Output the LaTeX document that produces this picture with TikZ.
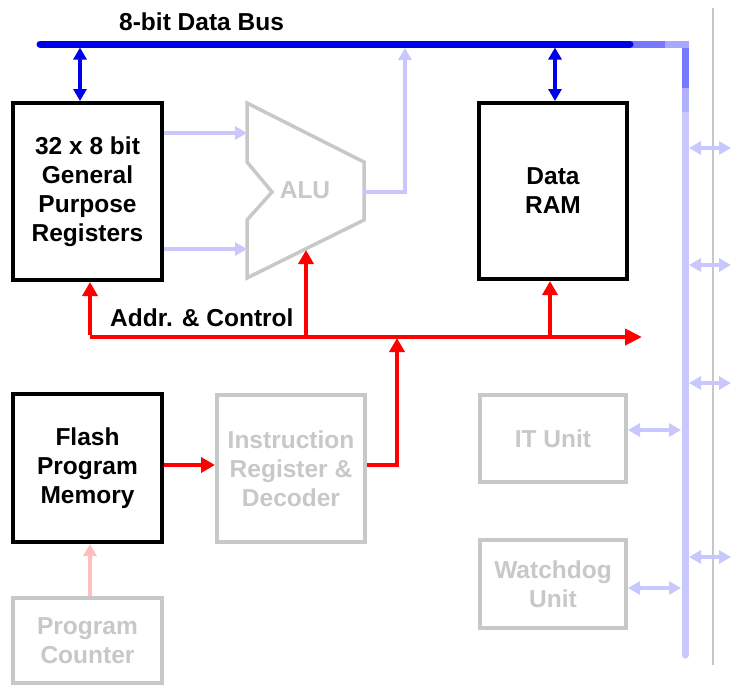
\documentclass[tikz,border=0pt]{standalone}
\usepackage{fontspec}
\setmainfont{Liberation Sans}
\usetikzlibrary{arrows.meta}
\definecolor{busblue}{RGB}{0,0,235}
\definecolor{midblue}{RGB}{120,120,255}
\definecolor{lblue}{RGB}{200,200,255}
\definecolor{lgray}{RGB}{200,200,200}
\definecolor{pinkred}{RGB}{255,190,190}
\definecolor{bred}{RGB}{255,0,0}
\tikzset{
  blk/.style={draw=black,line width=4pt,fill=white,align=center,font=\bfseries\fontsize{24.5}{29}\selectfont,inner sep=0pt},
  gbox/.style={draw=lgray,line width=4pt,fill=white,align=center,text=lgray,font=\bfseries\fontsize{24.5}{29}\selectfont,inner sep=0pt},
  redarrow/.style={draw=bred,line width=4pt,-{Triangle[length=14pt,width=15pt]}},
  bluedbl/.style={draw=busblue,line width=4pt,{Triangle[length=12pt,width=13pt]}-{Triangle[length=12pt,width=13pt]}},
  lbluedbl/.style={draw=lblue,line width=4pt,{Triangle[length=12pt,width=13pt]}-{Triangle[length=12pt,width=13pt]}},
  lbluearrow/.style={draw=lblue,line width=4pt,-{Triangle[length=12pt,width=13pt]}},
  lbl/.style={font=\bfseries\fontsize{24.5}{29}\selectfont,inner sep=0pt}
}
\begin{document}
\begin{tikzpicture}[x=1pt,y=-1pt]
\useasboundingbox (0,0) rectangle (733,686);
\fill[white] (0,0) rectangle (733,686);
% thin gray line at right
\coordinate (g1) at (713,8);
\coordinate (g2) at (713,665);
\draw[lgray,line width=1.5pt] (g1) -- (g2);
% data bus
\coordinate (db0) at (40,44);
\coordinate (db1) at (630,44);
\coordinate (db2) at (665,44);
\coordinate (dbc) at (685,44);
\coordinate (dv1) at (685,88);
\coordinate (dv2) at (685,112);
\coordinate (dvend) at (685,655);
\draw[lblue,line width=7pt,line cap=round] (dv2) -- (dvend);
\draw[lblue!70!midblue,line width=7pt] (dv1) -- (dv2);
\draw[midblue,line width=7pt] (dbc) -- (dv1);
\draw[lblue!60!midblue,line width=7pt] (db2) -- ([xshift=3.5pt]dbc);
\draw[midblue,line width=7pt] (db1) -- (db2);
\draw[busblue,line width=7pt,line cap=round] (db0) -- (db1);
\node[lbl,anchor=west] (dbl) at (119,22) {8-bit Data Bus};
% right side arrows
\foreach \yy/\nm in {148/ra,265/rb,383/rc,557/rd}{
  \coordinate (\nm1) at (689,\yy);
  \coordinate (\nm2) at (731,\yy);
  \draw[lbluedbl] (\nm1) -- (\nm2);
}
% boxes
\node[blk,minimum width=149pt,minimum height=177pt] (regs) at (87.5,191.5) {32 x 8 bit\\General\\Purpose\\Registers};
\node[blk,minimum width=148pt,minimum height=176pt] (ram) at (553,191) {Data\\RAM};
\node[blk,minimum width=149pt,minimum height=148pt] (flash) at (87.5,468) {Flash\\Program\\Memory};
\node[gbox,minimum width=148pt,minimum height=147pt] (instr) at (291,468.5) {Instruction\\Register \&\\Decoder};
\node[gbox,minimum width=149pt,minimum height=85pt] (pc) at (87.5,640.5) {Program\\Counter};
\node[gbox,minimum width=146pt,minimum height=87pt] (itu) at (553,438.5) {IT Unit};
\node[gbox,minimum width=146pt,minimum height=88pt] (wd) at (553,584) {Watchdog\\Unit};
% ALU
\draw[lgray,line width=3.5pt,line join=miter] (247,103) -- (364,162) -- (364,220) -- (247,278) -- (247,220) -- (272,192) -- (247,162) -- cycle;
\node[lbl,text=lgray] (alu) at (305,190) {ALU};
\coordinate (aluin1) at (247,133);
\coordinate (aluin2) at (247,249);
\coordinate (aluout) at (364,192);
\coordinate (aluo1) at (405,192);
\coordinate (aluo2) at (405,48);
\coordinate (alubot) at (306,250);
\draw[lbluearrow] (regs.east |- aluin1) -- (aluin1);
\draw[lbluearrow] (regs.east |- aluin2) -- (aluin2);
\draw[lbluearrow,line join=miter] (aluout) -- (aluo1) -- (aluo2);
% blue double arrows to bus
\draw[bluedbl] (80,47.5) -- (80,101);
\draw[bluedbl] (555,47.5) -- (555,101);
% IT & watchdog to bus
\coordinate (itb) at (681,430);
\coordinate (wdb) at (681,588);
\draw[lbluedbl] (itu.east |- itb) -- (itb);
\draw[lbluedbl] (wd.east |- wdb) -- (wdb);
% red address & control bus
\coordinate (rb0) at (90,337);
\coordinate (rbend) at (642,337);
\coordinate (rbalu) at (306,337);
\coordinate (rbram) at (550,337);
\coordinate (rbin) at (397,337);
\coordinate (ir1) at (397,465);
\draw[redarrow,-{Triangle[length=17pt,width=16pt]}] (rb0) -- (rbend);
\draw[redarrow,line cap=butt] ([yshift=2pt]rb0) -- (90,282);
\draw[redarrow] (rbalu) -- (alubot);
\draw[redarrow] (rbram) -- (550,281);
\draw[redarrow,line join=miter] (instr.east |- ir1) -- (ir1) -- ([yshift=-1pt]rbin);
\node[lbl,anchor=west] (adl) at (110,318) {Addr. \& Control};
% flash -> instr
\coordinate (fl) at (162,465);
\draw[redarrow] (flash.east |- fl) -- (instr.west |- fl);
% pc -> flash
\draw[draw=pinkred,line width=4pt,-{Triangle[length=12pt,width=13pt]}] (90,596) -- (90,544);
\end{tikzpicture}
\end{document}
